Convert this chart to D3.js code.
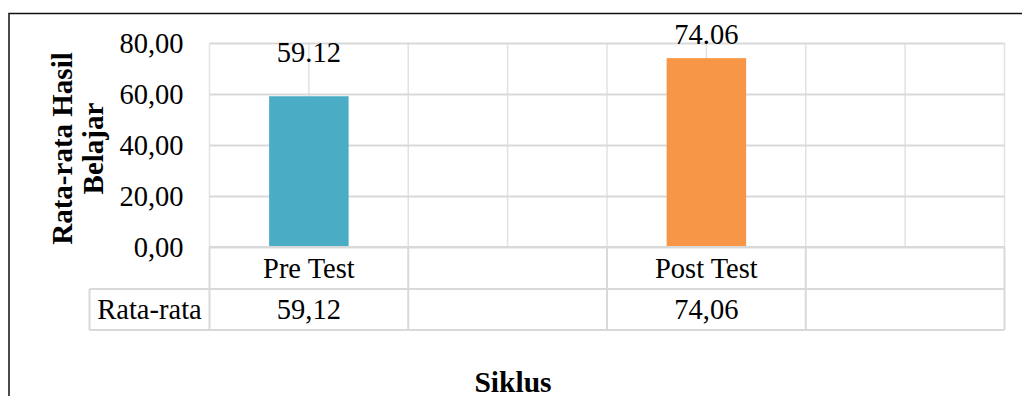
<!DOCTYPE html>
<html>
<head>
<meta charset="utf-8">
<script src="https://cdn.jsdelivr.net/npm/d3@7/dist/d3.min.js"></script>
<style>
  html, body { margin: 0; padding: 0; background: #fff; }
  svg { display: block; }
  svg text { font-family: "Liberation Serif", "Times New Roman", serif; fill: #000; }
</style>
</head>
<body>
<svg id="chart" width="1022" height="396"></svg>
<script>
// Kolom tabel data (dua siklus + kolom kosong di sela-selanya)
const columns = ["Pre Test", "", "Post Test", ""];
// Nilai rata-rata hasil belajar per kolom
const averages = [59.12, null, 74.06, null];
const barColors = ["#4bacc6", null, "#f79646", null];
// Tick sumbu Y
const yTicks = [0, 20, 40, 60, 80];
const rowHeader = "Rata-rata";
const yTitleLines = ["Rata-rata Hasil", "Belajar"];
const xTitle = "Siklus";

const svg = d3.select("#chart");
const plot = { left: 209.5, right: 1004.5, top: 43, bottom: 247 };
const tableRows = { cat: 247, data: 289, end: 330, headerLeft: 89.5 };
const gridH = "#d9d9d9", gridV = "#e2e2e2";
const FS = 28.5;

const x = d3.scaleBand().domain(d3.range(columns.length))
  .range([plot.left, plot.right]).paddingInner(0).paddingOuter(0);
const y = d3.scaleLinear().domain([0, 80]).range([plot.bottom, plot.top]);
const commaFmt = v => d3.format(".2f")(v).replace(".", ",");

// Bingkai luar
svg.append("rect").attr("x", 9).attr("y", 13.5).attr("width", 1100).attr("height", 500)
  .attr("fill", "none").attr("stroke", "#111").attr("stroke-width", 1.5);

// Garis kisi vertikal (tiap setengah kolom)
const halfSteps = d3.range(columns.length * 2 + 1).map(i => plot.left + i * x.bandwidth() / 2);
svg.append("g").selectAll("line").data(halfSteps).join("line")
  .attr("x1", d => d).attr("x2", d => d)
  .attr("y1", plot.top).attr("y2", plot.bottom)
  .attr("stroke", gridV).attr("stroke-width", 1.5);

// Garis kisi horizontal + label sumbu Y
const yAxis = svg.append("g").attr("transform", `translate(${plot.left},0)`)
  .call(d3.axisLeft(y).tickValues(yTicks).tickFormat(commaFmt)
    .tickSize(-(plot.right - plot.left)).tickPadding(26));
yAxis.attr("font-family", null).attr("font-size", null);
yAxis.select(".domain").remove();
yAxis.selectAll(".tick line").attr("stroke", gridH).attr("stroke-width", 2);
yAxis.selectAll(".tick text").style("font-size", FS + "px").attr("fill", "#000");

// Batang
const barW = x.bandwidth() * 0.4;
const barData = columns.map((c, i) => ({ i, v: averages[i], color: barColors[i] }))
  .filter(d => d.v != null);
svg.append("g").selectAll("rect").data(barData).join("rect")
  .attr("x", d => x(d.i) + (x.bandwidth() - barW) / 2)
  .attr("width", barW)
  .attr("y", d => y(d.v))
  .attr("height", d => y(0) - y(d.v))
  .attr("fill", d => d.color);

// Label data di atas batang
const labelLift = [34, 14];
svg.append("g").selectAll("text").data(barData).join("text")
  .attr("x", d => x(d.i) + x.bandwidth() / 2)
  .attr("y", (d, k) => y(d.v) - labelLift[k])
  .attr("text-anchor", "middle").style("font-size", FS + "px")
  .text(d => d3.format(".2f")(d.v));

// Tabel data di bawah plot
const tbl = svg.append("g").attr("stroke", gridH).attr("stroke-width", 2);
tbl.append("line").attr("x1", plot.left).attr("x2", plot.right)
  .attr("y1", tableRows.cat).attr("y2", tableRows.cat);
[tableRows.data, tableRows.end].forEach(yy =>
  tbl.append("line").attr("x1", tableRows.headerLeft).attr("x2", plot.right)
    .attr("y1", yy).attr("y2", yy));
const colEdges = d3.range(columns.length + 1).map(i => plot.left + i * x.bandwidth());
tbl.selectAll(".v").data(colEdges).join("line").attr("class", "v")
  .attr("x1", d => d).attr("x2", d => d)
  .attr("y1", tableRows.cat).attr("y2", tableRows.end);
tbl.append("line").attr("x1", tableRows.headerLeft).attr("x2", tableRows.headerLeft)
  .attr("y1", tableRows.data).attr("y2", tableRows.end);

const txt = svg.append("g").attr("text-anchor", "middle");
txt.selectAll(".cat").data(columns).join("text").attr("class", "cat")
  .attr("x", (d, i) => x(i) + x.bandwidth() / 2)
  .attr("y", (tableRows.cat + tableRows.data) / 2).attr("dy", "0.35em")
  .style("font-size", FS + "px")
  .text(d => d);
txt.selectAll(".val").data(averages).join("text").attr("class", "val")
  .attr("x", (d, i) => x(i) + x.bandwidth() / 2)
  .attr("y", (tableRows.data + tableRows.end) / 2).attr("dy", "0.35em")
  .style("font-size", FS + "px")
  .text(d => d == null ? "" : commaFmt(d));
txt.append("text").attr("x", (tableRows.headerLeft + plot.left) / 2)
  .attr("y", (tableRows.data + tableRows.end) / 2).attr("dy", "0.35em")
  .style("font-size", FS + "px")
  .text(rowHeader);

// Judul sumbu
const yt = svg.append("text").attr("transform", "translate(61.5,148.5) rotate(-90)")
  .attr("text-anchor", "middle").style("font-size", "29px").attr("font-weight", "bold");
yt.selectAll("tspan").data(yTitleLines).join("tspan")
  .attr("x", 0).attr("dy", (d, i) => i === 0 ? "0.35em" : 31.5).text(d => d);

svg.append("text").attr("x", 513).attr("y", 391.5).attr("text-anchor", "middle")
  .style("font-size", "29.5px").attr("font-weight", "bold").text(xTitle);
</script>
</body>
</html>
